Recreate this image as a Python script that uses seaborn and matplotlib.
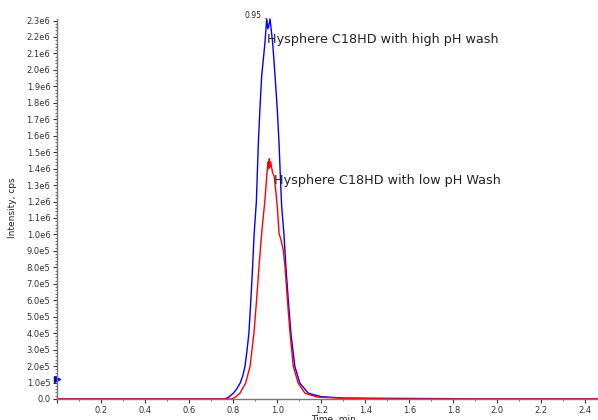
import matplotlib

matplotlib.use("Agg")
import matplotlib.pyplot as plt
from matplotlib.ticker import FuncFormatter, MultipleLocator
import numpy as np
import seaborn as sns

# high pH wash trace (blue)
high_time = [0.0, 0.74, 0.762, 0.78, 0.80, 0.815, 0.831, 0.843, 0.853, 0.862, 0.871, 0.880,
             0.888, 0.895, 0.905, 0.914, 0.921, 0.929, 0.944, 0.952, 0.957, 0.962, 0.967,
             0.979, 0.990, 1.000, 1.008, 1.014, 1.020, 1.030, 1.039, 1.050, 1.062, 1.080,
             1.103, 1.141, 1.20, 1.30, 1.50, 1.80, 1.90, 2.46]
high_intensity = [0.0, 0.0, 0.0, 0.012e6, 0.035e6, 0.06e6, 0.096e6, 0.14e6, 0.197e6, 0.29e6,
                  0.40e6, 0.603e6, 0.806e6, 1.008e6, 1.20e6, 1.556e6, 1.759e6, 1.962e6,
                  2.165e6, 2.31e6, 2.25e6, 2.27e6, 2.31e6, 2.165e6, 1.962e6, 1.759e6,
                  1.556e6, 1.353e6, 1.17e6, 1.008e6, 0.806e6, 0.603e6, 0.40e6, 0.197e6,
                  0.096e6, 0.035e6, 0.014e6, 0.006e6, 0.004e6, 0.002e6, 0.0, 0.0]

# low pH wash trace (red)
low_time = [0.0, 0.77, 0.793, 0.81, 0.83, 0.856, 0.876, 0.894, 0.906, 0.917, 0.929, 0.944,
            0.952, 0.958, 0.961, 0.964, 0.967, 0.970, 0.978, 0.986, 0.994, 1.000, 1.008,
            1.018, 1.027, 1.035, 1.046, 1.058, 1.073, 1.095, 1.126, 1.18, 1.30, 1.50, 2.46]
low_intensity = [0.0, 0.0, 0.0, 0.012e6, 0.035e6, 0.096e6, 0.197e6, 0.40e6, 0.603e6,
                 0.806e6, 1.008e6, 1.211e6, 1.353e6, 1.44e6, 1.40e6, 1.46e6, 1.41e6, 1.44e6,
                 1.38e6, 1.353e6, 1.252e6, 1.17e6, 1.008e6, 0.96e6, 0.907e6, 0.806e6,
                 0.603e6, 0.40e6, 0.197e6, 0.096e6, 0.035e6, 0.012e6, 0.004e6, 0.0, 0.0]

high_label = "Hysphere C18HD with high pH wash"
low_label = "Hysphere C18HD with low pH Wash"
peak_rt = 0.95

sns.set_style("white")
plt.rcParams["font.family"] = ["DejaVu Sans"]

fig = plt.figure(figsize=(5.98, 4.20), dpi=100)
ax = fig.add_axes([0.0958, 0.05, 0.9042, 0.905])

sns.lineplot(x=high_time, y=high_intensity, color="#0000ff", linewidth=1.0, ax=ax,
             estimator=None, sort=False)
sns.lineplot(x=low_time, y=low_intensity, color="#ff0000", linewidth=1.0, ax=ax,
             estimator=None, sort=False)
for line in ax.get_lines():
    line.set_clip_on(False)

ax.set_xlim(0, 2.458)
ax.set_ylim(0, 2.31e6)

ax.xaxis.set_major_locator(MultipleLocator(0.2))
ax.xaxis.set_minor_locator(MultipleLocator(0.1))
ax.yaxis.set_major_locator(MultipleLocator(1e5))
ax.yaxis.set_minor_locator(MultipleLocator(2e4))


def fmt_y(v, pos):
    if abs(v) < 1:
        return "0.0"
    if v < 0:
        return ""
    exp = int(np.floor(np.log10(v) + 1e-9))
    return f"{v / 10 ** exp:.1f}e{exp}"


def fmt_x(v, pos):
    return "" if abs(v) < 1e-9 else f"{v:.1f}"


ax.yaxis.set_major_formatter(FuncFormatter(fmt_y))
ax.xaxis.set_major_formatter(FuncFormatter(fmt_x))

ax.tick_params(axis="both", which="major", labelsize=6, colors="#333333", length=3, width=0.8,
               direction="out", left=True, bottom=True, pad=2)
ax.tick_params(axis="both", which="minor", length=1.5, width=0.6, colors="#555555",
               left=True, bottom=True)
for side in ["top", "right"]:
    ax.spines[side].set_visible(False)
for side in ["left", "bottom"]:
    ax.spines[side].set_color("#777777")
    ax.spines[side].set_linewidth(1.0)

ax.set_xlabel("Time, min", fontsize=6.5, color="#222222")
ax.xaxis.set_label_coords(0.51, -0.042)
ax.set_ylabel("Intensity, cps", fontsize=6.5, color="#222222")
ax.yaxis.set_label_coords(-0.074, 0.503)

ax.text(0.955, 2.185e6, high_label, fontsize=9.2, color="#222222", va="center", ha="left")
ax.text(0.985, 1.327e6, low_label, fontsize=9.2, color="#222222", va="center", ha="left")
ax.annotate(f"{peak_rt:.2f}", xy=(0.952, 2.31e6), xytext=(0.852, 2.33e6), fontsize=5.5,
            color="#222222", va="center", ha="left", annotation_clip=False,
            arrowprops=dict(arrowstyle="-", color="#555555", lw=0.5))

ax.plot([0.0], [1.2e5], marker=">", color="#0000cc", markersize=4, clip_on=False)

fig.savefig("out.png", dpi=100)
